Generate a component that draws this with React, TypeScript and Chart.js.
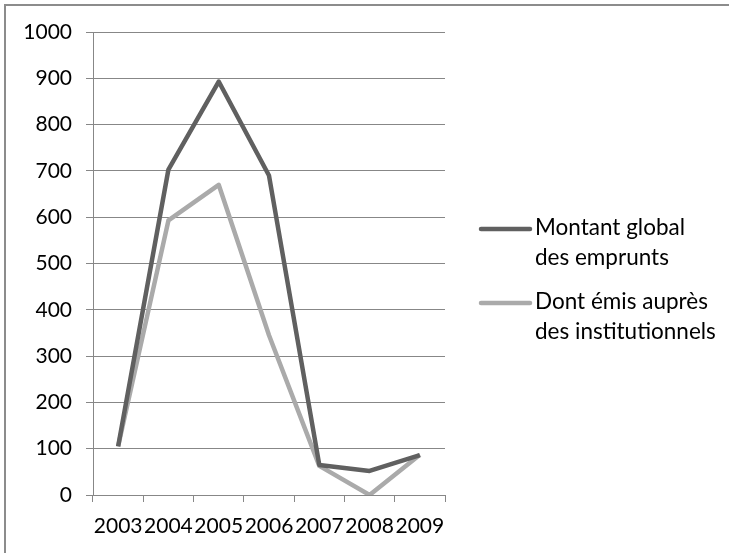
import React, { useEffect, useRef } from "react";
import { Chart, registerables } from "chart.js";

Chart.register(...registerables);

const years = ["2003", "2004", "2005", "2006", "2007", "2008", "2009"];
const montantGlobal = [105, 703, 893, 690, 65, 52, 86];
const dontInstitutionnels = [105, 593, 670, 345, 63, 0, 87];
const seriesNames = ["Montant global des emprunts", "Dont émis auprès des institutionnels"];
const legendLines = [
  ["Montant global", "des emprunts"],
  ["Dont émis auprès", "des institutionnels"],
];
const yMin = 0;
const yMax = 1000;
const yStep = 100;

const DARK = "#606060";
const LIGHT = "#aaaaaa";
const GRID = "#878787";
const FONT = "Lato";

const framePlugin = {
  id: "frame",
  beforeDraw(chart: any) {
    const ctx = chart.ctx;
    ctx.save();
    ctx.fillStyle = "#ffffff";
    ctx.fillRect(0, 0, chart.width, chart.height);
    ctx.strokeStyle = "#8c8c8c";
    ctx.lineWidth = 2;
    ctx.beginPath();
    ctx.moveTo(5, chart.height + 2);
    ctx.lineTo(5, 5);
    ctx.lineTo(chart.width + 2, 5);
    ctx.stroke();
    ctx.restore();
  },
};

const legendPlugin = {
  id: "customLegend",
  afterDraw(chart: any) {
    const ctx = chart.ctx;
    ctx.save();
    const entries = chart.data.datasets.map((ds: any, i: number) => ({
      color: ds.borderColor,
      lines: legendLines[i],
    }));
    const startY = [228, 302];
    entries.forEach((e: any, i: number) => {
      const y = startY[i];
      ctx.strokeStyle = e.color;
      ctx.lineWidth = 4.5;
      ctx.lineCap = "round";
      ctx.beginPath();
      ctx.moveTo(481, y + 1);
      ctx.lineTo(530, y + 1);
      ctx.stroke();
      ctx.fillStyle = "#000000";
      ctx.font = `22.5px ${FONT}`;
      ctx.textBaseline = "middle";
      ctx.textAlign = "left";
      e.lines.forEach((t: string, j: number) => {
        ctx.fillText(t, 535, y + j * 30);
      });
    });
    ctx.restore();
  },
};

export default function App() {
  const ref = useRef<HTMLCanvasElement | null>(null);

  useEffect(() => {
    if (!ref.current) return;
    const chart = new Chart(ref.current, {
      type: "line",
      data: {
        labels: years,
        datasets: [
          {
            label: seriesNames[0],
            data: montantGlobal,
            borderColor: DARK,
            backgroundColor: DARK,
            borderWidth: 4.5,
            pointRadius: 0,
            tension: 0,
            borderJoinStyle: "round",
            borderCapStyle: "butt",
          },
          {
            label: seriesNames[1],
            data: dontInstitutionnels,
            borderColor: LIGHT,
            backgroundColor: LIGHT,
            borderWidth: 4.5,
            pointRadius: 0,
            tension: 0,
            borderJoinStyle: "round",
            borderCapStyle: "butt",
          },
        ],
      },
      options: {
        responsive: false,
        animation: false,
        layout: { padding: { top: 32, right: 284, left: 0, bottom: 0 } },
        plugins: {
          legend: { display: false },
          tooltip: { enabled: false },
          title: { display: false },
        },
        scales: {
          x: {
            offset: true,
            grid: {
              offset: true,
              drawOnChartArea: false,
              drawTicks: true,
              tickLength: 7,
              color: GRID,
              lineWidth: 1,
            },
            border: { display: true, color: GRID, width: 1 },
            ticks: {
              color: "#000000",
              font: { family: FONT, size: 21 },
              padding: 12,
              maxRotation: 0,
              autoSkip: false,
            },
            afterFit(scale: any) {
              scale.height = 58;
            },
          },
          y: {
            min: yMin,
            max: yMax,
            grid: {
              color: GRID,
              lineWidth: 1,
              drawTicks: true,
              tickLength: 7,
            },
            border: { display: true, color: GRID, width: 1 },
            ticks: {
              stepSize: yStep,
              color: "#000000",
              font: { family: FONT, size: 21 },
              padding: 14,
              callback: (v: any) => String(v),
            },
            afterFit(scale: any) {
              scale.width = 93;
            },
          },
        },
      },
      plugins: [framePlugin, legendPlugin],
    });
    return () => chart.destroy();
  }, []);

  return (
    <div style={{ position: "absolute", left: 0, top: 0, width: 729, height: 553 }}>
      <canvas ref={ref} width={729} height={553} />
    </div>
  );
}
